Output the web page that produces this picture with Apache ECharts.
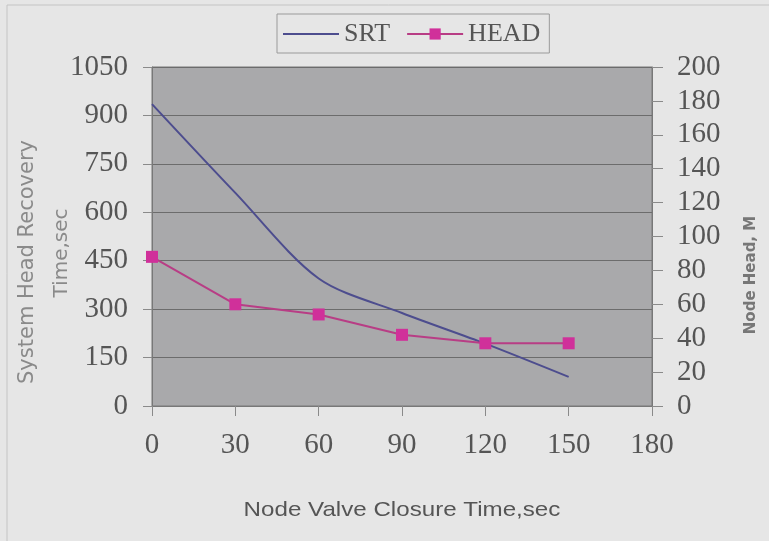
<!DOCTYPE html>
<html>
<head>
<meta charset="utf-8">
<script src="https://cdn.jsdelivr.net/npm/echarts@6/dist/echarts.min.js"></script>
<style>
  html, body { margin: 0; padding: 0; background: #e6e6e6; }
  #chart { width: 769px; height: 541px; }
</style>
</head>
<body>
<div id="chart"></div>
<script>
// Node valve closure time (s)
const closureTimes = [0, 30, 60, 90, 120, 150];
// System head recovery time (s), left axis
const srtValues = [935, 660, 395, 288, 193, 90];
// Node head (m), right axis
const headValues = [88, 60, 54, 42, 37, 37];

const seriesNames = ['SRT', 'HEAD'];
const xTitle = 'Node Valve Closure Time,sec';
const leftTitleLines = ['System Head Recovery', 'Time,sec'];
const rightTitle = 'Node Head, M';

const pair = (xs, ys) => xs.map((x, i) => [x, ys[i]]);

const serif = '"Liberation Serif", "Times New Roman", serif';
const labelColor = '#555555';
const plainNumber = v => String(v);

const chart = echarts.init(document.getElementById('chart'));
chart.setOption({
  backgroundColor: '#e6e6e6',
  animation: false,
  grid: {
    left: 152, right: 117, top: 67, bottom: 135,
    show: true,
    backgroundColor: '#a9a9ab',
    borderColor: '#787878',
    borderWidth: 1
  },
  legend: {
    left: 277, top: 14,
    padding: [7, 9, 6, 6],
    borderColor: '#9a9a9a',
    borderWidth: 1,
    itemWidth: 56,
    itemHeight: 14,
    itemGap: 16,
    textStyle: { fontFamily: serif, fontSize: 26, color: labelColor },
    data: [
      { name: seriesNames[0], icon: 'path://M0,0L56,0L56,2L0,2Z' },
      { name: seriesNames[1] }
    ]
  },
  xAxis: {
    type: 'value',
    min: 0, max: 180, interval: 30,
    axisLine: { show: true, lineStyle: { color: '#787878' } },
    axisTick: { show: true, length: 10, lineStyle: { color: '#8a8a8a' } },
    axisLabel: { fontFamily: serif, fontSize: 29, color: labelColor, margin: 25, formatter: plainNumber },
    splitLine: { show: false }
  },
  yAxis: [
    {
      type: 'value',
      min: 0, max: 1050, interval: 150,
      axisLine: { show: true, lineStyle: { color: '#787878' } },
      axisTick: { show: true, length: 9, lineStyle: { color: '#8a8a8a' } },
      axisLabel: { fontFamily: serif, fontSize: 29, color: labelColor, margin: 24, formatter: plainNumber },
      splitLine: { show: true, lineStyle: { color: '#6c6c6c', width: 1 } }
    },
    {
      type: 'value',
      position: 'right',
      min: 0, max: 200, interval: 20,
      axisLine: { show: true, lineStyle: { color: '#787878' } },
      axisTick: { show: true, length: 11, lineStyle: { color: '#8a8a8a' } },
      axisLabel: { fontFamily: serif, fontSize: 29, color: labelColor, margin: 25, formatter: plainNumber },
      splitLine: { show: false }
    }
  ],
  graphic: [
    {
      type: 'rect',
      shape: { x: 7, y: 5, width: 800, height: 600 },
      style: { fill: 'none', stroke: '#c4c4c4', lineWidth: 1 },
      silent: true
    },
    {
      type: 'text', x: 402, y: 510, scaleX: 1.15,
      style: {
        text: xTitle, fontFamily: '"Liberation Sans", Arial, sans-serif',
        fontSize: 21, fill: '#555555', align: 'center', verticalAlign: 'middle'
      }
    },
    {
      type: 'text', x: 28, y: 262, rotation: Math.PI / 2,
      style: {
        text: leftTitleLines[0], fontFamily: '"DejaVu Sans", sans-serif',
        fontSize: 21, fill: '#8a8a8a', align: 'center', verticalAlign: 'middle'
      }
    },
    {
      type: 'text', x: 62, y: 253, rotation: Math.PI / 2,
      style: {
        text: leftTitleLines[1], fontFamily: '"DejaVu Sans", sans-serif',
        fontSize: 20, fill: '#8a8a8a', align: 'center', verticalAlign: 'middle'
      }
    },
    {
      type: 'text', x: 751, y: 275, rotation: Math.PI / 2,
      style: {
        text: rightTitle, fontFamily: '"DejaVu Sans", sans-serif',
        fontSize: 15, fontWeight: 'bold', fill: '#777777', align: 'center', verticalAlign: 'middle'
      }
    }
  ],
  series: [
    {
      name: seriesNames[0],
      type: 'line',
      yAxisIndex: 0,
      data: pair(closureTimes, srtValues),
      smooth: 0.3,
      symbol: 'none',
      lineStyle: { color: '#4d4d8e', width: 2 },
      itemStyle: { color: '#4d4d8e' }
    },
    {
      name: seriesNames[1],
      type: 'line',
      yAxisIndex: 1,
      data: pair(closureTimes, headValues),
      symbol: 'rect',
      symbolSize: 12,
      lineStyle: { color: '#b83d85', width: 2 },
      itemStyle: { color: '#d0309a' }
    }
  ]
});
</script>
</body>
</html>
